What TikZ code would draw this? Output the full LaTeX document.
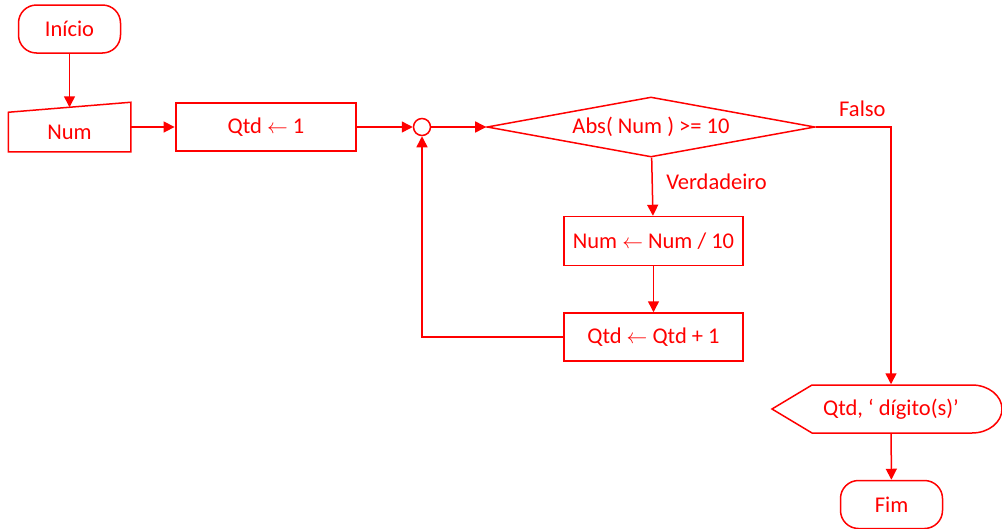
\documentclass[tikz,border=0pt]{standalone}
\usepackage{fontspec}
\setmainfont{Carlito}
\usetikzlibrary{positioning,arrows.meta,shapes.geometric}

\begin{document}
\begin{tikzpicture}[
  x=1pt, y=-1pt,
  color=red, line width=1.5pt,
  every node/.style={font=\fontsize{22.5}{27}\selectfont},
  terminal/.style={
    rectangle, draw, rounded corners=18pt,
    minimum width=102pt, minimum height=48pt
  },
  process/.style={
    rectangle, draw,
    minimum width=179pt, minimum height=48pt
  },
  plain/.style={
    rectangle, inner sep=0pt
  },
  arrow/.style={-{Triangle[length=11pt,width=11pt]}}
]
\useasboundingbox (0,0) rectangle (1002,528);

% =====================================================
% START
% =====================================================

\node[terminal] (inicio) at (69.5,29) {Início};

\node[plain, minimum width=121pt, minimum height=38pt] (num) at (69.5,132) {Num};
\draw (num.south west) -- (num.north west) -- ([yshift=10pt]num.north east) -- (num.south east) -- cycle;
\coordinate (numtop) at ([yshift=5pt]num.north);

\draw[arrow] (inicio) -- (numtop);

\node[process, minimum width=180pt, line width=2.8pt] (qtd) at (266,127) {Qtd $\leftarrow$ 1};

\draw[arrow] (num.east |- qtd) -- (qtd);

% =====================================================
% LOOP
% =====================================================

\node[circle, draw, minimum size=17pt, inner sep=0pt] (junc) at (422,127) {};

\draw[arrow] (qtd) -- (junc);

\node[diamond, draw, aspect=5.5, inner sep=0pt,
      minimum width=328pt, minimum height=60pt] (teste) at (651,127) {Abs( Num ) >= 10};

\draw[arrow] (junc) -- (teste);

\node[process, minimum height=49pt] (div) at (653.5,241) {Num $\leftarrow$ Num / 10};

\draw[arrow] (teste) -- node[pos=0.42, right, xshift=10pt]{Verdadeiro} (div);

\node[process] (inc) at (653.5,337) {Qtd $\leftarrow$ Qtd + 1};

\draw[arrow] (div) -- (inc);
\draw[arrow] (inc.west) -| (junc.south);

% =====================================================
% OUTPUT
% =====================================================

\node[plain, minimum width=160pt, minimum height=48pt] (saida) at (891,409) {Qtd, ‘ dígito(s)’};
\draw (772,409) -- (812,385) -- (972,385)
  arc[start angle=90, end angle=-90, x radius=30pt, y radius=24pt]
  -- (812,433) -- cycle;

\draw[arrow] (teste.east) -| node[pos=0.31, above, yshift=6pt]{Falso} (saida.north);

\node[terminal] (fim) at (891.5,504.5) {Fim};

\draw[arrow] (saida) -- (fim);

\end{tikzpicture}
\end{document}
